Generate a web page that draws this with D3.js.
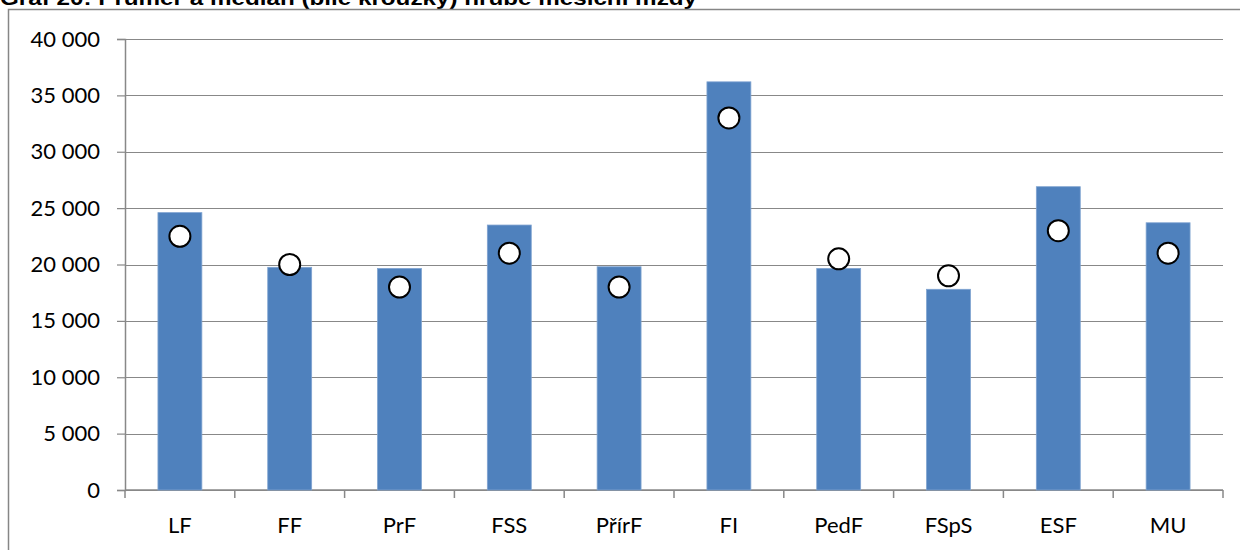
<!DOCTYPE html>
<html>
<head>
<meta charset="utf-8">
<script src="https://cdn.jsdelivr.net/npm/d3@7"></script>
<style>
  body { margin: 0; background: #fff; }
</style>
</head>
<body>
<div id="chart"></div>
<script>
// data
var categories = ["LF", "FF", "PrF", "FSS", "PřírF", "FI", "PedF", "FSpS", "ESF", "MU"];
var meanValues = [24600, 19750, 19650, 23500, 19800, 36200, 19650, 17800, 26900, 23700];
var medianValues = [22500, 20000, 18000, 21000, 18000, 33000, 20500, 19000, 23000, 21000];
var yTicks = [0, 5000, 10000, 15000, 20000, 25000, 30000, 35000, 40000];
var title = "Graf 20: Průměr a medián (bílé kroužky) hrubé měsíční mzdy";

// dimensions
var W = 1240, H = 550;
var margin = {top: 39, right: 17, bottom: 60, left: 125},
    width = W - margin.left - margin.right,
    height = H - margin.top - margin.bottom;

var svg = d3.select("#chart")
    .append("svg")
    .attr("width", W)
    .attr("height", H);

// title (cut off at the top like the original)
svg.append("text")
    .attr("x", 0)
    .attr("y", 5)
    .attr("font-family", "Liberation Sans, Arial, sans-serif")
    .attr("font-weight", "bold")
    .attr("font-size", 20)
    .attr("textLength", 697)
    .attr("lengthAdjust", "spacingAndGlyphs")
    .attr("fill", "#000")
    .text(title);

// outer frame of the chart object
svg.append("path")
    .attr("d", "M8.5," + (H + 5) + " V9.5 H" + (W + 5))
    .attr("fill", "none")
    .attr("stroke", "#868686")
    .attr("stroke-width", 1.5);

var g = svg.append("g")
    .attr("transform", "translate(" + margin.left + "," + margin.top + ")");

// scales
var x = d3.scaleBand()
    .domain(categories)
    .range([0, width])
    .paddingInner(0.6)
    .paddingOuter(0.3);

var y = d3.scaleLinear()
    .domain([0, 40000])
    .range([height, 0]);

var fmt = function(d) { return d3.format(",")(d).replace(/,/g, " "); };

// gridlines
g.append("g")
    .selectAll("line")
    .data(yTicks)
    .enter()
    .append("line")
    .attr("x1", 0)
    .attr("x2", width)
    .attr("y1", function(d) { return Math.round(y(d)) + 0.5; })
    .attr("y2", function(d) { return Math.round(y(d)) + 0.5; })
    .attr("stroke", "#888")
    .attr("stroke-width", 1.2);

// Y axis
var yAxis = g.append("g")
    .call(d3.axisLeft(y).tickValues(yTicks).tickSize(8).tickPadding(17).tickFormat(fmt));
yAxis.select(".domain").attr("stroke", "#888").attr("stroke-width", 1.5);
yAxis.selectAll(".tick line").attr("stroke", "#888").attr("stroke-width", 1.2);
yAxis.selectAll("text")
    .attr("font-family", "Lato, Open Sans, sans-serif")
    .attr("font-size", 22)
    .attr("fill", "#000");

// X axis with ticks between categories
var xAxis = g.append("g")
    .attr("transform", "translate(0," + height + ")");
xAxis.append("line")
    .attr("x1", 0).attr("x2", width)
    .attr("stroke", "#888").attr("stroke-width", 1.5);
xAxis.selectAll(".sep")
    .data(d3.range(categories.length + 1))
    .enter()
    .append("line")
    .attr("class", "sep")
    .attr("x1", function(i) { return i * x.step(); })
    .attr("x2", function(i) { return i * x.step(); })
    .attr("y1", 0).attr("y2", 8)
    .attr("stroke", "#888").attr("stroke-width", 1.5);
xAxis.selectAll(".lbl")
    .data(categories)
    .enter()
    .append("text")
    .attr("class", "lbl")
    .attr("x", function(d) { return x(d) + x.bandwidth() / 2; })
    .attr("y", 43)
    .attr("text-anchor", "middle")
    .attr("font-family", "Lato, Open Sans, sans-serif")
    .attr("font-size", 22)
    .attr("fill", "#000")
    .text(function(d) { return d; });

// bars (mean)
g.selectAll(".bar")
    .data(categories)
    .enter()
    .append("rect")
    .attr("class", "bar")
    .attr("x", function(d) { return x(d); })
    .attr("width", x.bandwidth())
    .attr("y", function(d, i) { return y(meanValues[i]); })
    .attr("height", function(d, i) { return height - y(meanValues[i]); })
    .attr("fill", "#4F81BD")
    .attr("stroke", "#7FA3D0")
    .attr("stroke-width", 0.8);

// median circles
g.selectAll(".med")
    .data(categories)
    .enter()
    .append("circle")
    .attr("class", "med")
    .attr("cx", function(d) { return x(d) + x.bandwidth() / 2; })
    .attr("cy", function(d, i) { return y(medianValues[i]); })
    .attr("r", 10.5)
    .attr("fill", "#fff")
    .attr("stroke", "#000")
    .attr("stroke-width", 2);
</script>
</body>
</html>
